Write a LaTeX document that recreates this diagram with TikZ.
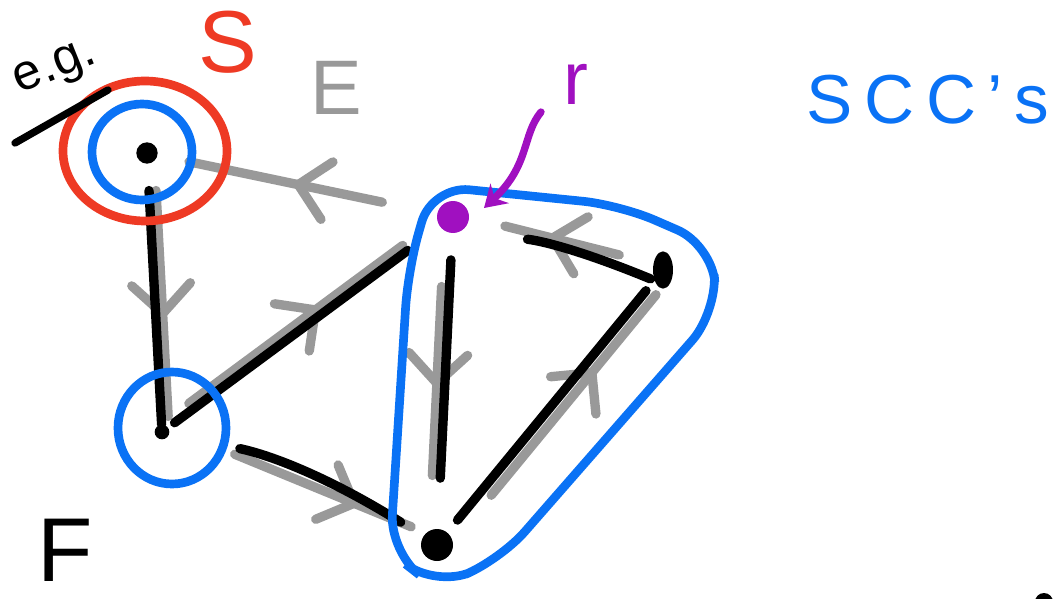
\documentclass[tikz,border=0pt]{standalone}
\usepackage{fontspec}
\setmainfont{Liberation Sans}
\usetikzlibrary{arrows.meta,decorations.markings,shapes.geometric}

\definecolor{inkred}{HTML}{EE3A24}
\definecolor{inkblue}{HTML}{0A72F5}
\definecolor{inkgray}{HTML}{999999}
\definecolor{inkpurple}{HTML}{A010C0}

\tikzset{
  vert/.style={circle, fill=black, inner sep=0pt, minimum size=16pt},
  edge/.style={line width=7pt, line cap=round},
  diredge/.style={inkgray, line width=7pt, line cap=round,
    postaction={decorate},
    decoration={markings, mark=at position #1 with
      {\arrow[inkgray]{Straight Barb[length=22pt, width=44pt, line width=7pt, line cap=round]}}}},
  diredge/.default=0.5,
  ring/.style={line width=6.5pt},
  word/.style={inner sep=0pt}
}

\begin{document}
\begin{tikzpicture}[x=0.75pt, y=-0.75pt]
  \useasboundingbox (0,0) rectangle (1056,599);

  % vertices
  \node[vert] (a) at (147,153) {};
  \node[vert, minimum size=11pt] (b) at (162,432) {};
  \node[vert, fill=inkpurple, minimum size=24pt] (c) at (453,217) {};
  \node[vert, ellipse, minimum width=15pt, minimum height=28pt] (d) at (663,270) {};
  \node[vert, minimum size=24pt] (e) at (437,545) {};

  % directed edges E
  \draw[diredge=0.52, shorten <=42pt, shorten >=24pt] (c) -- (a);
  \draw[diredge=0.6, shorten <=20pt, shorten >=6pt, transform canvas={shift={(7,0)}}] (a) -- (b);
  \draw[diredge=0.58, shorten <=24pt, shorten >=30pt, transform canvas={shift={(-5,-5)}}] (b) -- (c);
  \draw[diredge=0.74, shorten <=50pt, shorten >=12pt, transform canvas={shift={(4,-6)}}] (b) -- (e);
  \draw[diredge=0.53, shorten <=40pt, shorten >=40pt, transform canvas={shift={(-8,0)}}] (c) -- (e);
  \draw[diredge=0.58, shorten <=26pt, shorten >=28pt, transform canvas={shift={(0,-4)}}] (d) -- (c);
  \draw[diredge=0.67, shorten <=40pt, shorten >=10pt, transform canvas={shift={(10,4)}}] (e) -- (d);

  % undirected edges
  \draw[edge, shorten <=20pt] (a) -- (b);
  \draw[edge, shorten <=6pt, shorten >=30pt] (b) -- (c);
  \draw[edge, shorten <=54pt, shorten >=20pt] (b) to[bend left=10] (e);
  \draw[edge, shorten <=20pt, shorten >=38pt] (c) -- (e);
  \draw[edge, shorten <=44pt, shorten >=2pt, transform canvas={shift={(0,14)}}] (c) to[bend left=8] (d);
  \draw[edge, shorten <=12pt, shorten >=10pt] (e) -- (d);

  % source ring and components
  \draw[ring, inkred] (145,151) ellipse [x radius=82, y radius=70];
  \draw[ring, inkblue] (142,152) ellipse [x radius=50, y radius=48];
  \draw[ring, inkblue] (172,428) ellipse [x radius=54, y radius=56];
  \draw[ring, inkblue, rounded corners=28pt]
    (432,186) -- (620,205) -- (712,245) -- (717,312) -- (500,560)
    -- (435,587) -- (390,552) -- (408,270) -- cycle;

  % root pointer
  \draw[inkpurple, line width=5.5pt, line cap=round, -{Stealth[length=16pt, width=20pt]}]
    (541,112) .. controls (522,135) and (530,165) .. (484,208);

  % labels
  \node[word, rotate=22, font=\fontsize{38}{42}\selectfont] (eg) at (56,70) {e.g.};
  \draw[line width=5.5pt, line cap=round] (15,143) -- (108,90);
  \node[word, text=inkred, font=\fontsize{66}{70}\selectfont] (s) at (228,42) {S};
  \node[word, text=inkgray, font=\fontsize{58}{62}\selectfont] (elab) at (336,88) {E};
  \node[word, text=inkpurple, font=\fontsize{56}{60}\selectfont] (r) at (576,84) {r};
  \node[word, text=inkblue, font=\fontsize{52}{56}\selectfont] (scc) at (928,100) {S\,C\,C\,'\,s};
  \node[word, font=\fontsize{68}{72}\selectfont] (f) at (65,550) {F};
  \fill (1044,602) circle [radius=9];
\end{tikzpicture}
\end{document}
